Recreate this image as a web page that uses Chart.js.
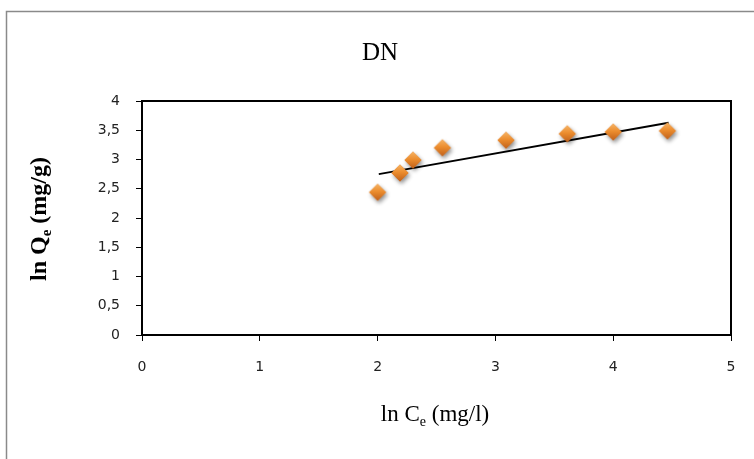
<!DOCTYPE html>
<html>
<head>
<meta charset="utf-8">
<script src="https://cdn.jsdelivr.net/npm/chart.js@4"></script>
<style>
  html, body { margin: 0; padding: 0; background: #fff; }
  #wrap { width: 754px; height: 459px; position: relative; }
</style>
</head>
<body>
<div id="wrap"><canvas id="c"></canvas></div>
<script>
// Freundlich isotherm, sample DN: ln Ce vs ln Qe
const lnCe = [2.00, 2.19, 2.30, 2.55, 3.09, 3.61, 4.00, 4.46];
const lnQe = [2.44, 2.77, 2.99, 3.20, 3.33, 3.44, 3.47, 3.49];
// fitted trend line end points
const fitX = [2.01, 4.47];
const fitY = [2.75, 3.63];
const xTickLabels = ['0', '1', '2', '3', '4', '5'];
const yTickLabels = ['0', '0,5', '1', '1,5', '2', '2,5', '3', '3,5', '4'];

// shaded diamond marker with a soft drop shadow
function makeDiamond() {
  const s = 30, c = document.createElement('canvas');
  c.width = s; c.height = s;
  const g = c.getContext('2d');
  const cx = s / 2, cy = s / 2, r = 8.5;
  const path = () => {
    g.beginPath();
    g.moveTo(cx, cy - r);
    g.lineTo(cx + r, cy);
    g.lineTo(cx, cy + r);
    g.lineTo(cx - r, cy);
    g.closePath();
  };
  g.save();
  g.shadowColor = 'rgba(0,0,0,0.45)';
  g.shadowBlur = 4;
  g.shadowOffsetX = 1.5;
  g.shadowOffsetY = 2.5;
  path();
  g.fillStyle = '#d9782a';
  g.fill();
  g.restore();
  const grad = g.createLinearGradient(cx, cy - r, cx, cy + r);
  grad.addColorStop(0, '#f6b466');
  grad.addColorStop(0.45, '#ec8d2e');
  grad.addColorStop(1, '#c0601a');
  path();
  g.fillStyle = grad;
  g.fill();
  return c;
}

const frameAndTitles = {
  id: 'frameAndTitles',
  beforeDraw(chart) {
    const ctx = chart.ctx;
    ctx.save();
    ctx.fillStyle = '#fff';
    ctx.fillRect(0, 0, chart.width, chart.height);
    ctx.strokeStyle = '#8a8a8a';
    ctx.lineWidth = 1.5;
    ctx.beginPath();
    ctx.moveTo(6.5, chart.height + 2);
    ctx.lineTo(6.5, 11.5);
    ctx.lineTo(chart.width + 2, 11.5);
    ctx.stroke();
    ctx.restore();
  },
  afterDraw(chart) {
    const ctx = chart.ctx, a = chart.chartArea;
    ctx.save();
    ctx.strokeStyle = '#000';
    ctx.lineWidth = 2;
    ctx.strokeRect(a.left, a.top, a.right - a.left, a.bottom - a.top);

    ctx.fillStyle = '#000';
    ctx.textBaseline = 'alphabetic';
    ctx.textAlign = 'center';
    ctx.font = '25px "Liberation Serif"';
    ctx.fillText('DN', 380, 60);

    // label with subscript "e"
    const drawSub = (parts, x, y, size, bold) => {
      const w = bold ? 'bold ' : '';
      const main = w + size + 'px "Liberation Serif"';
      const sub = w + Math.round(size * 0.62) + 'px "Liberation Serif"';
      let total = 0;
      parts.forEach(p => { ctx.font = p.sub ? sub : main; total += ctx.measureText(p.t).width; });
      let cx = x - total / 2;
      ctx.textAlign = 'left';
      parts.forEach(p => {
        ctx.font = p.sub ? sub : main;
        ctx.fillText(p.t, cx, y + (p.sub ? size * 0.2 : 0));
        cx += ctx.measureText(p.t).width;
      });
    };
    drawSub([{t: 'ln C'}, {t: 'e', sub: true}, {t: ' (mg/l)'}], 435, 421, 23, false);
    ctx.save();
    ctx.translate(46, 219);
    ctx.rotate(-Math.PI / 2);
    drawSub([{t: 'ln Q'}, {t: 'e', sub: true}, {t: ' (mg/g)'}], 0, 0, 24, true);
    ctx.restore();
    ctx.restore();
  }
};

const tickFont = { family: '"DejaVu Sans"', size: 14 };

new Chart(document.getElementById('c'), {
  type: 'scatter',
  data: {
    datasets: [
      {
        label: 'ln Qe',
        data: lnCe.map((x, i) => ({ x, y: lnQe[i] })),
        pointStyle: makeDiamond(),
        pointRadius: 9,
        showLine: false
      },
      {
        type: 'line',
        label: 'fit',
        data: fitX.map((x, i) => ({ x, y: fitY[i] })),
        borderColor: '#000',
        borderWidth: 2,
        pointRadius: 0,
        fill: false
      }
    ]
  },
  options: {
    responsive: true,
    maintainAspectRatio: false,
    animation: false,
    layout: { padding: { left: 0, top: 101, right: 23, bottom: 0 } },
    plugins: { legend: { display: false }, tooltip: { enabled: false } },
    scales: {
      x: {
        type: 'linear', min: 0, max: 5,
        afterFit(s) { s.height = 124; },
        border: { display: false },
        grid: { display: true, drawOnChartArea: false, drawTicks: true, tickLength: 6, color: '#000', lineWidth: 1 },
        ticks: {
          stepSize: 1, padding: 18, color: '#222', font: tickFont,
          callback: (v, i) => xTickLabels[i]
        }
      },
      y: {
        type: 'linear', min: 0, max: 4,
        afterFit(s) { s.width = 142; },
        border: { display: false },
        grid: { display: true, drawOnChartArea: false, drawTicks: true, tickLength: 6, color: '#000', lineWidth: 1 },
        ticks: {
          stepSize: 0.5, padding: 16, color: '#222', font: tickFont,
          callback: (v, i) => yTickLabels[i]
        }
      }
    }
  },
  plugins: [frameAndTitles]
});
</script>
</body>
</html>
